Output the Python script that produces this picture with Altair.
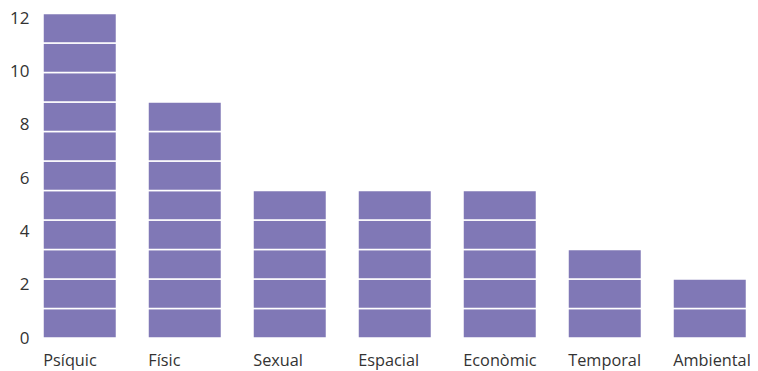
import altair as alt
import pandas as pd

categories = ["Psíquic", "Físic", "Sexual", "Espacial", "Econòmic", "Temporal", "Ambiental"]
counts = [11, 8, 5, 5, 5, 3, 2]
y_ticks = [0, 2, 4, 6, 8, 10, 12]

rows = []
for cat, n in zip(categories, counts):
    for i in range(n):
        rows.append({"cat": cat, "lo": i, "hi": i + 1})
seg = pd.DataFrame(rows)
ticks_df = pd.DataFrame({"v": y_ticks})

FONT = "Open Sans"
TXT = "#333333"

x_enc = alt.X("cat:N", sort=categories, title=None,
              scale=alt.Scale(paddingInner=0.3, paddingOuter=0),
              axis=alt.Axis(labelAlign="left", labelOffset=-36.5, ticks=False, domain=False,
                            labelAngle=0, labelFont=FONT, labelFontSize=16.3, labelColor=TXT,
                            labelPadding=14))

axis_layer = alt.Chart(ticks_df).mark_point(opacity=0).encode(
    y=alt.Y("v:Q", title=None, scale=alt.Scale(domain=[0, 12], nice=False),
            axis=alt.Axis(orient="left", values=y_ticks, ticks=False, domain=False, grid=False,
                          labelFont=FONT, labelFontSize=17, labelColor=TXT, labelPadding=14))
)

bars = alt.Chart(seg).mark_bar(color="#8078b6", stroke="white", strokeWidth=1.5).encode(
    x=x_enc,
    y=alt.Y("lo:Q", scale=alt.Scale(domain=[0, 10.85], nice=False), axis=None),
    y2="hi:Q",
)

chart = alt.layer(axis_layer, bars).resolve_scale(y="independent").properties(
    width=703.5, height=320,
    autosize=alt.AutoSizeParams(type="none"),
    padding={"left": 35, "top": 10, "right": 3.5, "bottom": 40},
).configure_view(stroke=None)

chart.save("out.html", embed_options={"renderer": "svg", "actions": False})
